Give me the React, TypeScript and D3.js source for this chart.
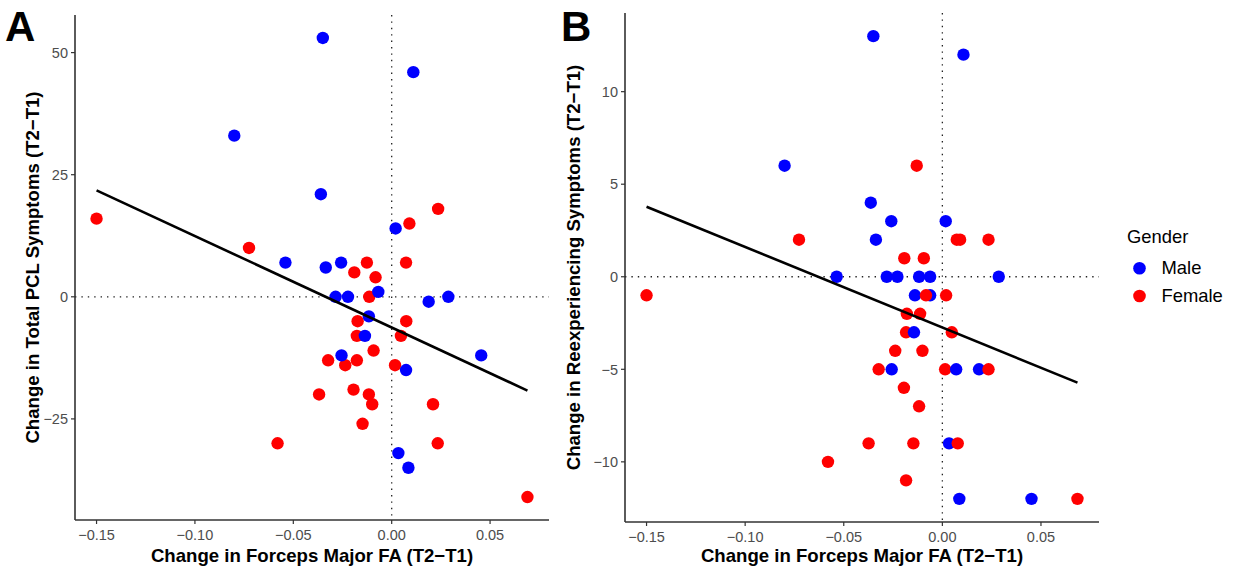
import React from "react";
import * as d3 from "d3";

// ---------- data ----------
const xTicks = [-0.15, -0.1, -0.05, 0.0, 0.05];
const pclTicks = [-25, 0, 25, 50];
const reexTicks = [-10, -5, 0, 5, 10];
const genderNames = ["Male", "Female"];
const genderColors = ["#0000FF", "#FF0000"];

// Panel A: Change in Total PCL Symptoms (draw order)
const pclX = [
  -0.15, -0.0725, 0.0236, 0.009, -0.0126, -0.019, 0.0073, -0.0082, -0.0114, 0.0074,
  -0.0173, -0.0177, 0.0047, -0.0092, -0.0323, -0.0177, -0.0236, 0.0017, -0.0369, -0.0194,
  -0.0116, -0.0099, 0.021, -0.0148, 0.0234, -0.058, 0.069,
  -0.08, -0.054, -0.035, 0.011, -0.036, 0.002, -0.0335, -0.0257, -0.0068, -0.0285,
  -0.0222, 0.0188, 0.0288, -0.0116, -0.0136, -0.0255, 0.0455, 0.0073, 0.0034, 0.0085,
];
const pclY = [
  16, 10, 18, 15, 7, 5, 7, 4, 0, -5,
  -5, -8, -8, -11, -13, -13, -14, -14, -20, -19,
  -20, -22, -22, -26, -30, -30, -41,
  33, 7, 53, 46, 21, 14, 6, 7, 1, 0,
  0, -1, 0, -4, -8, -12, -12, -15, -32, -35,
];
const pclGender = [
  "F", "F", "F", "F", "F", "F", "F", "F", "F", "F",
  "F", "F", "F", "F", "F", "F", "F", "F", "F", "F",
  "F", "F", "F", "F", "F", "F", "F",
  "M", "M", "M", "M", "M", "M", "M", "M", "M", "M",
  "M", "M", "M", "M", "M", "M", "M", "M", "M", "M",
];
const pclFit = [-6.28, -187.2]; // intercept, slope

// Panel B: Change in Reexperiencing Symptoms (draw order)
const reexX = [
  -0.08, -0.035, 0.0107, -0.0363, -0.0259, 0.0017, -0.0337, -0.0536, -0.0282, -0.0228,
  -0.0118, -0.0062, 0.0286, -0.0139, -0.0062, 0.0186, 0.0034, 0.0086, 0.0452, -0.0257,
  -0.15, -0.0727, -0.013, 0.0073, 0.009, 0.0234, -0.0193, -0.0094, -0.0083, 0.0019,
  -0.018, -0.0113, -0.0184, 0.0048, -0.0239, -0.0101, -0.0323, 0.0014, 0.0234, -0.0195,
  -0.0118, -0.0374, -0.0147, 0.0078, -0.058, -0.0184, 0.0685,
  -0.0144, 0.007,
];
const reexY = [
  6, 13, 12, 4, 3, 3, 2, 0, 0, 0,
  0, 0, 0, -1, -1, -5, -9, -12, -12, -5,
  -1, 2, 6, 2, 2, 2, 1, 1, -1, -1,
  -2, -2, -3, -3, -4, -4, -5, -5, -5, -6,
  -7, -9, -9, -9, -10, -11, -12,
  -3, -5,
];
const reexGender = [
  "M", "M", "M", "M", "M", "M", "M", "M", "M", "M",
  "M", "M", "M", "M", "M", "M", "M", "M", "M", "M",
  "F", "F", "F", "F", "F", "F", "F", "F", "F", "F",
  "F", "F", "F", "F", "F", "F", "F", "F", "F", "F",
  "F", "F", "F", "F", "F", "F", "F",
  "M", "M",
];
const reexFit = [-2.74, -43.5];

// ---------- helpers ----------
const FONT = "'Liberation Sans', Arial, Helvetica, sans-serif";
const minus = (s: string) => s.replace("-", "\u2212");
const expand = (ext: [number, number]): [number, number] => {
  const d = (ext[1] - ext[0]) * 0.05;
  return [ext[0] - d, ext[1] + d];
};

type PanelProps = {
  xs: number[];
  ys: number[];
  gs: string[];
  fit: number[];
  yTicks: number[];
  yFormat: (v: number) => string;
  yTitle: string;
  left: number;
  right: number;
  top: number;
  bottom: number;
  letter: string;
  letterX: number;
  yTitleX: number;
};

function Panel(p: PanelProps) {
  const x = d3
    .scaleLinear()
    .domain(expand(d3.extent(p.xs) as [number, number]))
    .range([p.left, p.right]);
  const y = d3
    .scaleLinear()
    .domain(expand(d3.extent(p.ys) as [number, number]))
    .range([p.bottom, p.top]);
  const [x0, x1] = d3.extent(p.xs) as [number, number];
  const line = d3
    .line<number>()
    .x((v) => x(v))
    .y((v) => y(p.fit[0] + p.fit[1] * v));
  const axisColor = "#333333";
  const tickColor = "#4D4D4D";
  const xFmt = d3.format(".2f");
  return (
    <g>
      {/* reference lines */}
      <line
        x1={p.left}
        x2={p.right}
        y1={y(0)}
        y2={y(0)}
        stroke="#222"
        strokeWidth={1.3}
        strokeDasharray="1.4 5"
      />
      <line
        x1={x(0)}
        x2={x(0)}
        y1={p.top}
        y2={p.bottom}
        stroke="#222"
        strokeWidth={1.3}
        strokeDasharray="1.4 5"
      />
      {/* points */}
      {p.xs.map((v, i) => (
        <circle
          key={i}
          cx={x(v)}
          cy={y(p.ys[i])}
          r={6.2}
          fill={p.gs[i] === "M" ? genderColors[0] : genderColors[1]}
        />
      ))}
      {/* fit line */}
      <path d={line([x0, x1]) || ""} fill="none" stroke="#000" strokeWidth={2.6} />
      {/* axes */}
      <line x1={p.left} x2={p.left} y1={p.top} y2={p.bottom} stroke={axisColor} strokeWidth={1.6} />
      <line x1={p.left} x2={p.right} y1={p.bottom} y2={p.bottom} stroke={axisColor} strokeWidth={1.6} />
      {p.yTicks.map((t) => (
        <g key={"y" + t}>
          <line x1={p.left - 4} x2={p.left} y1={y(t)} y2={y(t)} stroke={axisColor} strokeWidth={1.2} />
          <text
            x={p.left - 7}
            y={y(t)}
            dy="0.36em"
            textAnchor="end"
            fontFamily={FONT}
            fontSize={14.5}
            fill={tickColor}
          >
            {minus(p.yFormat(t))}
          </text>
        </g>
      ))}
      {xTicks.map((t) => (
        <g key={"x" + t}>
          <line x1={x(t)} x2={x(t)} y1={p.bottom} y2={p.bottom + 4} stroke={axisColor} strokeWidth={1.2} />
          <text
            x={x(t)}
            y={p.bottom + 19.5}
            textAnchor="middle"
            fontFamily={FONT}
            fontSize={14.5}
            fill={tickColor}
          >
            {minus(xFmt(t))}
          </text>
        </g>
      ))}
      {/* titles */}
      <text
        x={(p.left + p.right) / 2}
        y={562}
        textAnchor="middle"
        fontFamily={FONT}
        fontWeight="bold"
        fontSize={18.6}
        fill="#000"
      >
        {"Change in Forceps Major FA (T2\u2212T1)"}
      </text>
      <text
        transform={`translate(${p.yTitleX},${(p.top + p.bottom) / 2}) rotate(-90)`}
        textAnchor="middle"
        dy="0.36em"
        fontFamily={FONT}
        fontWeight="bold"
        fontSize={18.6}
        fill="#000"
      >
        {p.yTitle}
      </text>
      <text
        x={p.letterX}
        y={41}
        fontFamily={FONT}
        fontWeight="bold"
        fontSize={42}
        fill="#000"
      >
        {p.letter}
      </text>
    </g>
  );
}

export default function App() {
  return (
    <svg
      width={1233}
      height={571}
      style={{ position: "absolute", left: 0, top: 0, background: "#fff" }}
    >
      <rect width={1233} height={571} fill="#fff" />
      <Panel
        xs={pclX}
        ys={pclY}
        gs={pclGender}
        fit={pclFit}
        yTicks={pclTicks}
        yFormat={d3.format("d")}
        yTitle={"Change in Total PCL Symptoms (T2\u2212T1)"}
        left={75}
        right={549}
        top={15}
        bottom={520}
        letter="A"
        letterX={5}
        yTitleX={32}
      />
      <Panel
        xs={reexX}
        ys={reexY}
        gs={reexGender}
        fit={reexFit}
        yTicks={reexTicks}
        yFormat={d3.format("d")}
        yTitle={"Change in Reexperiencing Symptoms (T2\u2212T1)"}
        left={625}
        right={1099}
        top={13}
        bottom={522}
        letter="B"
        letterX={561}
        yTitleX={573}
      />
      {/* legend */}
      <text x={1127} y={243} fontFamily={FONT} fontSize={18.4} fill="#000">
        Gender
      </text>
      {genderNames.map((g, i) => (
        <g key={g}>
          <circle cx={1139.5} cy={268.3 + i * 27.7} r={6.3} fill={genderColors[i]} />
          <text x={1161.5} y={274 + i * 27.7} fontFamily={FONT} fontSize={18.4} fill="#000">
            {g}
          </text>
        </g>
      ))}
    </svg>
  );
}
